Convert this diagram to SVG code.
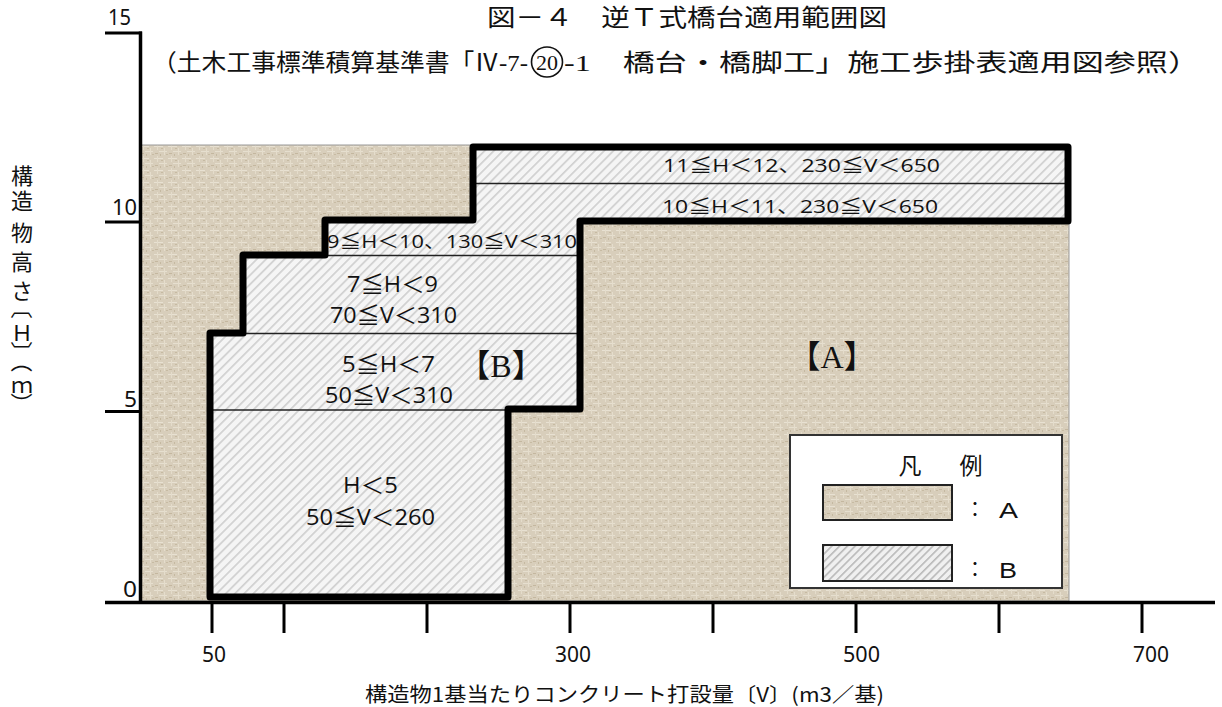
<svg xmlns="http://www.w3.org/2000/svg" width="1222" height="707" viewBox="0 0 1222 707">
<defs>
  <pattern id="burlap" width="14" height="12" patternUnits="userSpaceOnUse">
    <rect width="14" height="12" fill="#d8cebb"/>
    <rect x="0" y="2" width="9" height="1" fill="#e8e1d2"/>
    <rect x="5" y="7" width="8" height="1" fill="#e6dfcf"/>
    <rect x="3" y="0" width="1" height="6" fill="#e4dccb"/>
    <rect x="10" y="4" width="1" height="7" fill="#e5ddcc"/>
    <rect x="1" y="9" width="3" height="1" fill="#c4b79f"/>
    <rect x="7" y="4" width="2" height="1" fill="#c6baa2"/>
    <rect x="12" y="10" width="2" height="1" fill="#c7bba3"/>
    <rect x="6" y="10" width="1" height="2" fill="#c5b9a1"/>
  </pattern>
  <pattern id="hatch" width="6.5" height="6.5" patternUnits="userSpaceOnUse" patternTransform="rotate(45)">
    <rect width="6.5" height="6.5" fill="#f5f5f5"/>
    <rect x="0" y="0" width="1.7" height="6.5" fill="#d0d0d0"/>
  </pattern>
  <pattern id="hatch2" width="5.5" height="5.5" patternUnits="userSpaceOnUse" patternTransform="rotate(45)">
    <rect width="5.5" height="5.5" fill="#f0f0f0"/>
    <rect x="0" y="0" width="1.6" height="5.5" fill="#b8b8b8"/>
  </pattern>
  <style>
    .ttl{font-family:"Liberation Serif","Noto Sans CJK JP",serif;fill:#111}
    .ax{font-family:"Noto Sans","Open Sans",sans-serif;fill:#111}
    .lg{font-family:"Liberation Sans",Arial,sans-serif;fill:#111}
    .lbl{font-family:"Open Sans","Noto Sans CJK JP",sans-serif;fill:#111}
    .jp{font-family:"Noto Sans CJK JP",sans-serif;fill:#111}
    .br{font-family:"Liberation Serif","Noto Sans CJK JP",serif;fill:#111}
    .axis{stroke:#000;stroke-width:3.5;fill:none}
    .tick{stroke:#000;stroke-width:3;fill:none}
    .thin{stroke:#222;stroke-width:1.5;fill:none}
  </style>
</defs>

<!-- Title -->
<g id="title">
  <text class="ttl" x="487" y="26" font-size="24" textLength="400" lengthAdjust="spacingAndGlyphs">図－４　逆Ｔ式橋台適用範囲図</text>
  <text class="ttl" x="152" y="71" font-size="24" textLength="376" lengthAdjust="spacingAndGlyphs">（土木工事標準積算基準書「Ⅳ-7-</text>
  <ellipse cx="547" cy="62" rx="15.5" ry="15" fill="none" stroke="#111" stroke-width="1.6"/>
  <text class="ttl" x="547" y="70" text-anchor="middle" font-size="22">20</text>
  <text class="ttl" x="564" y="71" font-size="24" textLength="636" lengthAdjust="spacingAndGlyphs">-1　橋台・橋脚工」施工歩掛表適用図参照）</text>
</g>

<!-- Chart areas -->
<g id="areaA">
  <rect x="141" y="145" width="928" height="456" fill="url(#burlap)" stroke="#9a9a9a" stroke-width="1"/>
</g>
<g id="areaB">
  <path d="M210,597 V333 H243 V255 H325 V220 H473 V147 H1068 V221 H580 V409 H508 V597 Z" fill="url(#hatch)"/>
</g>

<!-- connectors: band separators, outline, axes -->
<g id="connectors">
  <line class="thin" x1="473" y1="183.5" x2="1068" y2="183.5"/>
  <line class="thin" x1="325" y1="255.5" x2="580" y2="255.5"/>
  <line class="thin" x1="243" y1="333.5" x2="580" y2="333.5"/>
  <line class="thin" x1="210" y1="410" x2="508" y2="410"/>
  <path d="M210,597 V333 H243 V255 H325 V220 H473 V147 H1068 V221 H580 V409 H508 V597 Z" fill="none" stroke="#000" stroke-width="7" stroke-linejoin="round"/>
  <line class="axis" x1="140.5" y1="31.5" x2="140.5" y2="602"/>
  <line class="tick" x1="105" y1="33" x2="142" y2="33"/>
  <line class="tick" x1="105" y1="222" x2="142" y2="222"/>
  <line class="tick" x1="105" y1="411.5" x2="142" y2="411.5"/>
  <line class="axis" x1="105" y1="602.5" x2="1215" y2="602.5"/>
  <line class="tick" x1="212" y1="602" x2="212" y2="633"/>
  <line class="tick" x1="284" y1="602" x2="284" y2="633"/>
  <line class="tick" x1="427" y1="602" x2="427" y2="633"/>
  <line class="tick" x1="570" y1="602" x2="570" y2="633"/>
  <line class="tick" x1="713" y1="602" x2="713" y2="633"/>
  <line class="tick" x1="856" y1="602" x2="856" y2="633"/>
  <line class="tick" x1="999" y1="602" x2="999" y2="633"/>
  <line class="tick" x1="1142" y1="602" x2="1142" y2="633"/>
</g>

<!-- Band labels -->
<g id="band-11-12">
  <text class="lbl" x="663" y="172" font-size="18" textLength="277" lengthAdjust="spacingAndGlyphs">11≦H＜12、230≦V＜650</text>
</g>
<g id="band-10-11">
  <text class="lbl" x="662" y="213" font-size="18" textLength="276" lengthAdjust="spacingAndGlyphs">10≦H＜11、230≦V＜650</text>
</g>
<g id="band-9-10">
  <text class="lbl" x="327" y="248" font-size="18" textLength="250" lengthAdjust="spacingAndGlyphs">9≦H＜10、130≦V＜310</text>
</g>
<g id="band-7-9">
  <text class="lbl" x="347" y="292" font-size="22" textLength="91" lengthAdjust="spacingAndGlyphs">7≦H＜9</text>
  <text class="lbl" x="330" y="323" font-size="22" textLength="127" lengthAdjust="spacingAndGlyphs">70≦V＜310</text>
</g>
<g id="band-5-7">
  <text class="lbl" x="342" y="372" font-size="22" textLength="93" lengthAdjust="spacingAndGlyphs">5≦H＜7</text>
  <text class="lbl" x="325" y="403" font-size="22" textLength="128" lengthAdjust="spacingAndGlyphs">50≦V＜310</text>
</g>
<g id="band-lt5">
  <text class="lbl" x="343" y="493" font-size="22" textLength="55" lengthAdjust="spacingAndGlyphs">H＜5</text>
  <text class="lbl" x="306" y="525" font-size="22" textLength="129" lengthAdjust="spacingAndGlyphs">50≦V＜260</text>
</g>
<g id="label-B">
  <text class="br" x="501" y="377" font-size="32" text-anchor="middle">【B】</text>
</g>
<g id="label-A">
  <text class="br" x="832" y="368" font-size="32" text-anchor="middle">【A】</text>
</g>

<!-- Legend -->
<g id="legend">
  <rect x="790" y="435" width="272" height="153" fill="#ffffff" stroke="#333" stroke-width="2"/>
  <text class="jp" x="910" y="474" font-size="23" text-anchor="middle">凡</text>
  <text class="jp" x="971" y="474" font-size="23" text-anchor="middle">例</text>
  <rect x="823" y="485" width="129" height="35" fill="url(#burlap)" stroke="#222" stroke-width="2"/>
  <rect x="823" y="545" width="129" height="36" fill="url(#hatch2)" stroke="#222" stroke-width="2"/>
  <text class="jp" x="975" y="517" font-size="20" text-anchor="middle">：</text>
  <text class="lg" x="999" y="518" font-size="22" textLength="19" lengthAdjust="spacingAndGlyphs">A</text>
  <text class="jp" x="975" y="577" font-size="20" text-anchor="middle">：</text>
  <text class="lg" x="999" y="578" font-size="22" textLength="18" lengthAdjust="spacingAndGlyphs">B</text>
</g>

<!-- Axis labels -->
<g id="y-ticks">
  <text class="ax" x="108" y="25" font-size="21" textLength="23" lengthAdjust="spacingAndGlyphs">15</text>
  <text class="ax" x="112" y="215" font-size="21" textLength="25" lengthAdjust="spacingAndGlyphs">10</text>
  <text class="ax" x="124" y="407" font-size="21" textLength="13" lengthAdjust="spacingAndGlyphs">5</text>
  <text class="ax" x="123" y="597" font-size="21" textLength="14" lengthAdjust="spacingAndGlyphs">0</text>
</g>
<g id="x-ticks">
  <text class="ax" x="202" y="662" font-size="21" textLength="24" lengthAdjust="spacingAndGlyphs">50</text>
  <text class="ax" x="555" y="662" font-size="21" textLength="36" lengthAdjust="spacingAndGlyphs">300</text>
  <text class="ax" x="843" y="662" font-size="21" textLength="37" lengthAdjust="spacingAndGlyphs">500</text>
  <text class="ax" x="1133" y="662" font-size="21" textLength="36" lengthAdjust="spacingAndGlyphs">700</text>
</g>
<g id="x-title">
  <text class="jp" x="365" y="702" font-size="20" textLength="519" lengthAdjust="spacingAndGlyphs">構造物1基当たりコンクリート打設量〔V〕(m3／基)</text>
</g>
<g id="y-title">
  <text class="jp" font-size="22" x="11 11 11 11 11 13.6 11 13.6 13.6 11 13.6" y="184 209 241 270 299 296.7 341 341.3 350.6 393 392.4" rotate="0 0 0 0 0 90 0 90 90 0 90">構造物高さ〔Ｈ〕（ｍ）</text>
</g>
</svg>
